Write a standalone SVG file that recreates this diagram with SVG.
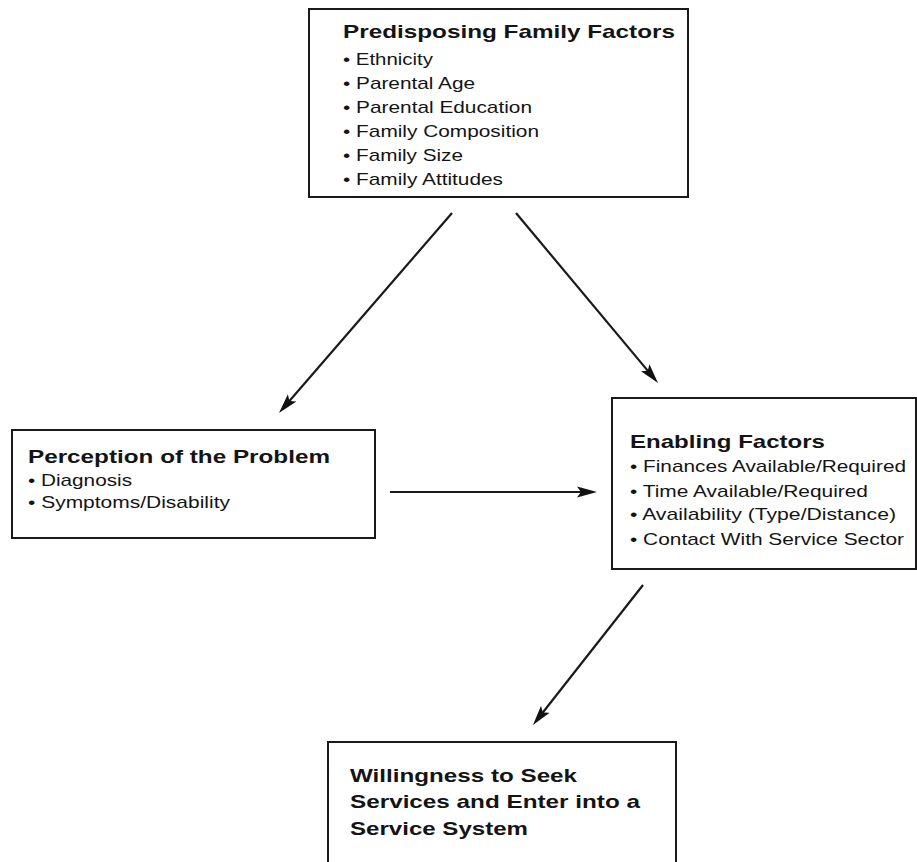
<svg xmlns="http://www.w3.org/2000/svg" width="917" height="862" viewBox="0 0 917 862">
  <style>
    .box { fill: #ffffff; stroke: #1a1a1a; stroke-width: 2; }
    .title { font-family: "Liberation Sans", Arial, Helvetica, sans-serif; font-weight: bold; font-size: 19px; fill: #141414; }
    .item { font-family: "Liberation Sans", Arial, Helvetica, sans-serif; font-size: 17px; fill: #141414; }
    .link { stroke: #1a1a1a; stroke-width: 2.2; fill: none; marker-end: url(#arrow); }
  </style>
  <defs>
    <marker id="arrow" viewBox="0 0 20 12" refX="12" refY="6" markerWidth="20" markerHeight="12" markerUnits="userSpaceOnUse" orient="auto">
      <path d="M0,0.5 L20,6 L0,11.5 L4,6 Z" fill="#111111"/>
    </marker>
  </defs>
  <rect width="917" height="862" fill="#ffffff"/>

  <g id="predisposing">
    <rect class="box" x="309" y="9" width="379" height="188"/>
    <text class="title" x="343" y="38" textLength="332" lengthAdjust="spacingAndGlyphs">Predisposing Family Factors</text>
    <text class="item" x="343" y="65" textLength="90" lengthAdjust="spacingAndGlyphs">• Ethnicity</text>
    <text class="item" x="343" y="89" textLength="132" lengthAdjust="spacingAndGlyphs">• Parental Age</text>
    <text class="item" x="343" y="113" textLength="189" lengthAdjust="spacingAndGlyphs">• Parental Education</text>
    <text class="item" x="343" y="137" textLength="196" lengthAdjust="spacingAndGlyphs">• Family Composition</text>
    <text class="item" x="343" y="161" textLength="120" lengthAdjust="spacingAndGlyphs">• Family Size</text>
    <text class="item" x="343" y="185" textLength="160" lengthAdjust="spacingAndGlyphs">• Family Attitudes</text>
  </g>

  <g id="perception">
    <rect class="box" x="12" y="430" width="363" height="108"/>
    <text class="title" x="28" y="463" textLength="302" lengthAdjust="spacingAndGlyphs">Perception of the Problem</text>
    <text class="item" x="28" y="486" textLength="104" lengthAdjust="spacingAndGlyphs">• Diagnosis</text>
    <text class="item" x="28" y="508" textLength="202" lengthAdjust="spacingAndGlyphs">• Symptoms/Disability</text>
  </g>

  <g id="enabling">
    <rect class="box" x="612" y="398" width="304" height="171"/>
    <text class="title" x="630" y="448" textLength="195" lengthAdjust="spacingAndGlyphs">Enabling Factors</text>
    <text class="item" x="630" y="472" textLength="276" lengthAdjust="spacingAndGlyphs">• Finances Available/Required</text>
    <text class="item" x="630" y="497" textLength="238" lengthAdjust="spacingAndGlyphs">• Time Available/Required</text>
    <text class="item" x="630" y="520" textLength="266" lengthAdjust="spacingAndGlyphs">• Availability (Type/Distance)</text>
    <text class="item" x="630" y="545" textLength="274" lengthAdjust="spacingAndGlyphs">• Contact With Service Sector</text>
  </g>

  <g id="willingness">
    <rect class="box" x="328" y="742" width="348" height="140"/>
    <text class="title" x="350" y="782" textLength="227" lengthAdjust="spacingAndGlyphs">Willingness to Seek</text>
    <text class="title" x="350" y="808" textLength="290" lengthAdjust="spacingAndGlyphs">Services and Enter into a</text>
    <text class="title" x="350" y="835" textLength="178" lengthAdjust="spacingAndGlyphs">Service System</text>
  </g>

  <g id="connectors">
    <line class="link" x1="452" y1="213" x2="284.2" y2="407"/>
    <line class="link" x1="516" y1="213" x2="652.9" y2="376.9"/>
    <line class="link" x1="390" y1="492" x2="589" y2="492"/>
    <line class="link" x1="643" y1="585" x2="537.9" y2="718.7"/>
  </g>
</svg>
